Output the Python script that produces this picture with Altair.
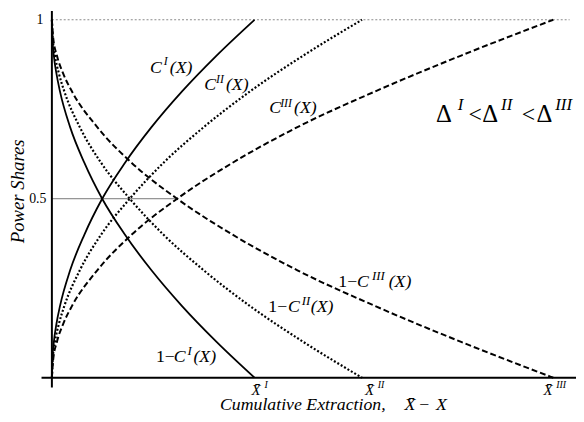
import altair as alt
import pandas as pd

# ---------------- data ----------------
# levels of power share sampled along each curve
Y_LEVELS = [0, 0.05, 0.1, 0.15, 0.2, 0.3, 0.4, 0.5, 0.6, 0.7, 0.8, 0.9, 1.0]
# cumulative extraction at which C^k(X) reaches each level (units: 1 = one pixel of the original)
C1_X = [0, 0.5, 2, 4.6, 8.2, 18.5, 33, 51, 74, 101, 132, 167, 205.5]
C2_X = [0, 0.8, 3.1, 7.1, 12.6, 28.3, 50, 79, 113, 154, 201, 255, 314.5]
C3_X = [0, 1.3, 5.1, 11.4, 20.3, 46, 81, 127, 183, 249, 328, 415, 508.5]
X_BAR = [205.5, 314.5, 508.5]
ROMAN = ["I", "II", "III"]
Y_TICKS = [0.5, 1.0]
Y_TICK_LABELS = ["0.5", "1"]
HALF_LINE_END = 127      # horizontal 0.5 line runs to the C^III crossing
TOP_LINE_END = 525       # dotted line at share 1

FONT = "'Liberation Serif', 'Times New Roman', Times, 'DejaVu Serif', serif"

# ---------------- pixel helpers (layout only) ----------------
def xd(px):
    return px - 52.5

def yd(py):
    return (380.0 - py) / 363.0

xs = alt.Scale(domain=[xd(8), xd(584)], nice=False, zero=False)
ys = alt.Scale(domain=[yd(422), yd(8)], nice=False, zero=False)

# ---------------- curves ----------------
rows = []
for name, xs_list in zip(ROMAN, [C1_X, C2_X, C3_X]):
    for i, (x, y) in enumerate(zip(xs_list, Y_LEVELS)):
        rows.append({"X": x, "Y": y, "curve": "C" + name, "set": name, "o": i})
        rows.append({"X": x, "Y": 1 - y, "curve": "1-C" + name, "set": name, "o": i})
curves = pd.DataFrame(rows)

styles = {"I": (None, 1.8), "II": ([2, 2], 2.2), "III": ([6, 3], 2.0)}
curve_layers = []
for name in ROMAN:
    dash, w = styles[name]
    kw = dict(color="black", strokeWidth=w, interpolate="monotone")
    if dash is not None:
        kw["strokeDash"] = dash
    curve_layers.append(
        alt.Chart(curves[curves["set"] == name]).mark_line(**kw).encode(
            x=alt.X("X:Q", scale=xs, axis=None),
            y=alt.Y("Y:Q", scale=ys, axis=None),
            detail="curve:N",
            order="o:Q",
        )
    )

# ---------------- guide lines ----------------
rules = pd.DataFrame([
    {"x": 0, "x2": HALF_LINE_END, "y": 0.5, "y2": 0.5, "kind": "half"},
    {"x": 0, "x2": TOP_LINE_END, "y": 1.0, "y2": 1.0, "kind": "top"},
    {"x": xd(42), "x2": xd(584), "y": 0.0, "y2": 0.0, "kind": "xaxis"},
    {"x": 0, "x2": 0, "y": yd(8), "y2": yd(390), "kind": "yaxis"},
])

def rule_layer(kind, **kw):
    return alt.Chart(rules[rules["kind"] == kind]).mark_rule(**kw).encode(
        x=alt.X("x:Q", scale=xs, axis=None), x2="x2:Q",
        y=alt.Y("y:Q", scale=ys, axis=None), y2="y2:Q",
    )

guide_layers = [
    rule_layer("half", color="#777777", strokeWidth=1),
    rule_layer("top", color="#888888", strokeWidth=1, strokeDash=[2, 2]),
    rule_layer("xaxis", color="black", strokeWidth=2),
    rule_layer("yaxis", color="black", strokeWidth=2),
]

# ---------------- text ----------------
def seg(text, px, py, size):
    return {"tx": xd(px), "ty": yd(py), "text": text, "size": size}

italic = [
    seg("C", 152, 66, 18), seg("I", 166, 59, 12), seg("(X)", 172, 66, 18),
    seg("C", 207, 83, 18), seg("II", 219, 77, 12), seg("(X)", 229, 83, 18),
    seg("C", 273, 107, 18), seg("III", 284, 101, 12), seg("(X)", 298, 107, 18),
    seg("C", 176, 359, 18), seg("I", 190, 353, 13), seg("(X)", 196, 359, 18),
    seg("C", 292, 308, 18), seg("II", 306, 302, 13), seg("(X)", 315, 308, 18),
    seg("C", 362, 283, 18), seg("III", 377, 277, 13), seg("(X)", 394, 283, 18),
    seg("Cumulative Extraction,", 223, 408, 18), seg("X\u0304", 410, 408, 18),
    seg("X", 442, 408, 18),
    seg("I", 464, 104, 17), seg("II", 508, 104, 17), seg("III", 563, 104, 17),
]
for r, px in zip(ROMAN, [255, 370, 551]):
    italic.append(seg("X\u0304", px, 393, 15))
    italic.append(seg(r, px + 13, 387, 10))

upright = [
    seg("1\u2212", 158, 359, 18), seg("1\u2212", 272, 308, 18), seg("1\u2212", 343, 283, 18),
    seg("\u2212", 425, 408, 18),
    seg("\u0394", 442, 113, 25), seg("<", 475, 114, 24),
    seg("\u0394", 489, 113, 25), seg("<", 529, 114, 24),
    seg("\u0394", 544, 113, 25),
]

def text_layer(records, **kw):
    return alt.Chart(pd.DataFrame(records)).mark_text(
        font=FONT, baseline="middle", color="black", **kw
    ).encode(
        x=alt.X("tx:Q", scale=xs, axis=None),
        y=alt.Y("ty:Q", scale=ys, axis=None),
        text="text:N",
        size=alt.Size("size:Q", scale=None, legend=None),
    )

ticks = pd.DataFrame({"ty": Y_TICKS, "text": Y_TICK_LABELS, "tx": [xd(47), xd(44)], "size": [14, 14]})
tick_layer = alt.Chart(ticks).mark_text(
    font=FONT, baseline="middle", align="right", color="black"
).encode(
    x=alt.X("tx:Q", scale=xs, axis=None),
    y=alt.Y("ty:Q", scale=ys, axis=None),
    text="text:N",
    size=alt.Size("size:Q", scale=None, legend=None),
)

ytitle = text_layer([seg("Power Shares", 18, 191, 19)], align="center", angle=270, fontStyle="italic")

layers = (
    guide_layers
    + curve_layers
    + [
        text_layer(italic, align="left", fontStyle="italic"),
        text_layer(upright, align="left"),
        tick_layer,
        ytitle,
    ]
)

chart = alt.layer(*layers).properties(
    width=576, height=414, autosize=alt.AutoSizeParams(type="none"), padding=0
).configure_view(stroke=None)

chart.save("out.html", embed_options={"renderer": "svg", "actions": False})
